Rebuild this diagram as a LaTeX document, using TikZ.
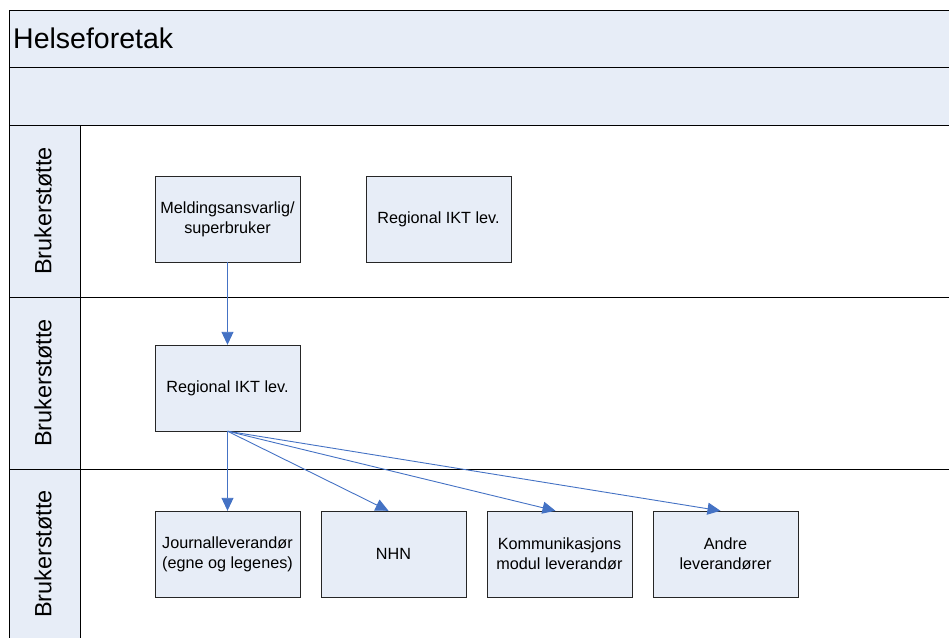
\documentclass[tikz,border=0pt]{standalone}
\usepackage{fontspec}
\setmainfont{Liberation Sans}
\usetikzlibrary{arrows.meta}
\definecolor{lanefill}{RGB}{231,237,247}
\definecolor{flowblue}{RGB}{68,114,196}

\begin{document}
\begin{tikzpicture}[x=1pt, y=-1pt,
    actor/.style={draw=black!85, fill=lanefill, minimum width=145pt, minimum height=86pt,
      align=center, inner sep=2pt, font=\fontsize{16.2}{20}\selectfont},
    lanelabel/.style={rotate=90, font=\fontsize{23.5}{28}\selectfont},
    flow/.style={draw=flowblue, line width=0.9pt, -{Triangle[length=13pt, width=12pt]}}]
  \useasboundingbox (0,0) rectangle (949,637);
  \clip (0,0) rectangle (949,637);
  \fill[lanefill] (9,10) rectangle (960,125);
  \fill[lanefill] (9,125) rectangle (80,650);
  \draw[line width=1pt] (9,650) -- (9,10) -- (960,10);
  \draw[line width=1pt] (9,67) -- (960,67);
  \draw[line width=1pt] (9,125) -- (960,125);
  \draw[line width=1pt] (9,297) -- (960,297);
  \draw[line width=1pt] (9,469) -- (960,469);
  \draw[line width=1pt] (80,125) -- (80,650);

  \node[anchor=west, inner sep=0pt, font=\fontsize{28.5}{32}\selectfont] (title) at (13,38) {Helseforetak};
  \node[lanelabel] (lane1) at (43,211) {Brukerstøtte};
  \node[lanelabel] (lane2) at (43,383) {Brukerstøtte};
  \node[lanelabel] (lane3) at (43,554) {Brukerstøtte};

  \node[actor] (melding) at (227.5,219) {Meldingsansvarlig/\\superbruker};
  \node[actor] (regtop) at (438.5,219) {Regional IKT lev.};
  \node[actor] (regmid) at (227.5,388) {Regional IKT lev.};
  \node[actor] (journal) at (227.5,554) {Journalleverandør\\(egne og legenes)};
  \node[actor] (nhn) at (393.5,554) {NHN};
  \node[actor] (komm) at (559.5,554) {Kommunikasjons\\modul leverandør};
  \node[actor] (andre) at (725.5,554) {Andre\\leverandører};

  \draw[flow] (melding.south) -- (regmid.north);
  \draw[flow] (regmid.south) -- (journal.north);
  \draw[flow] (regmid.south) -- ([xshift=-5pt]nhn.north);
  \draw[flow] (regmid.south) -- ([xshift=-4pt]komm.north);
  \draw[flow] (regmid.south) -- ([xshift=-5pt]andre.north);
\end{tikzpicture}
\end{document}
